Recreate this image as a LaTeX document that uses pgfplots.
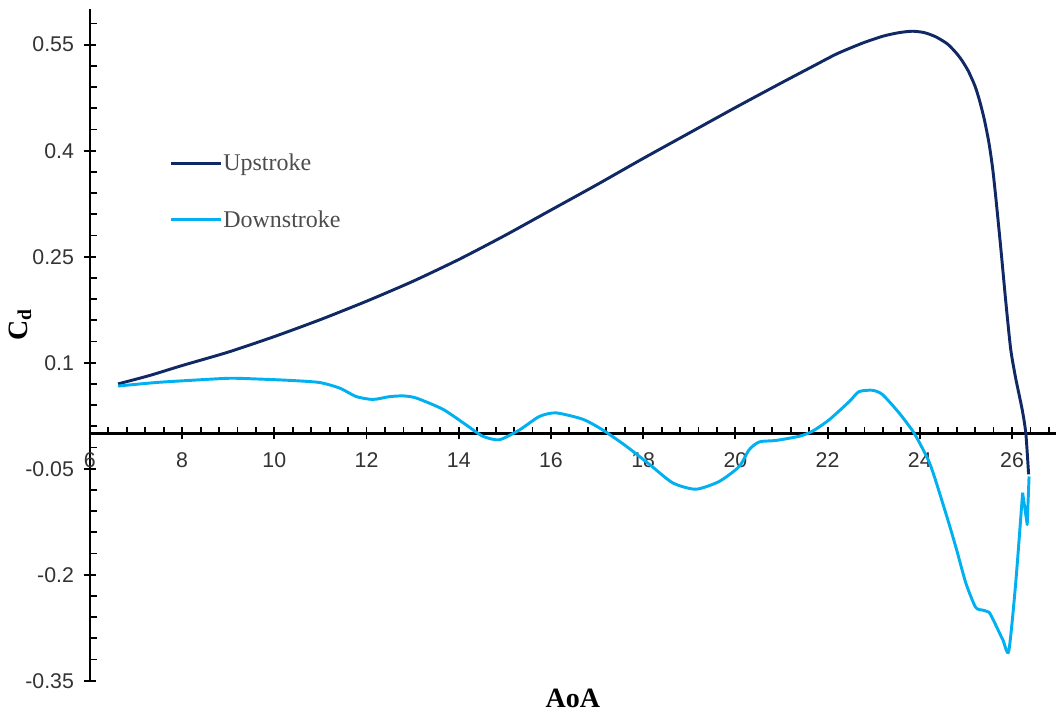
\documentclass[border=0pt]{standalone}
\usepackage{pgfplots}
\pgfplotsset{compat=1.18}
\usepackage{fontspec}
\setmainfont{Liberation Sans}
\newfontfamily\serif{Liberation Serif}

\definecolor{upc}{RGB}{16,40,100}
\definecolor{downc}{RGB}{0,176,240}

\begin{document}
\begin{tikzpicture}
\begin{axis}[
  scale only axis, width=725pt, height=504pt,
  xmin=6, xmax=26.95, ymin=-0.35, ymax=0.6,
  axis x line=middle, axis y line=left,
  axis line style={-, line width=1.8pt, black},
  hide obscured x ticks=false,
  xtick={6,8,10,12,14,16,18,20,22,24,26},
  xticklabels={6,8,10,12,14,16,18,20,22,24,26},
  ytick={-0.35,-0.2,-0.05,0.1,0.25,0.4,0.55},
  yticklabels={-0.35,-0.2,-0.05,0.1,0.25,0.4,0.55},
  % minor ticks on one side only, drawn as extra ticks
  extra x ticks={6.4,6.8,7.2,7.6,8.4,8.8,9.2,9.6,10.4,10.8,11.2,11.6,12.4,12.8,13.2,13.6,
    14.4,14.8,15.2,15.6,16.4,16.8,17.2,17.6,18.4,18.8,19.2,19.6,20.4,20.8,21.2,21.6,
    22.4,22.8,23.2,23.6,24.4,24.8,25.2,25.6,26.4,26.8},
  extra x tick labels={},
  extra y ticks={-0.32,-0.29,-0.26,-0.23,-0.17,-0.14,-0.11,-0.08,-0.02,0.01,0.04,0.07,
    0.13,0.16,0.19,0.22,0.28,0.31,0.34,0.37,0.43,0.46,0.49,0.52,0.58},
  extra y tick labels={},
  extra x tick style={tick align=inside, major tick length=5pt},
  extra y tick style={tick align=inside, major tick length=5pt},
  tick align=center,
  major tick length=9pt,
  every tick/.style={black, line width=1.4pt},
  tick label style={font=\fontsize{16}{19}\selectfont, text=black!80},
  xticklabel style={yshift=-6.5pt},
  yticklabel style={xshift=-4pt},
  every axis x label/.style={at={(axis description cs:0.5,0)}, anchor=center, yshift=-13pt},
  every axis y label/.style={at={(axis description cs:-0.0724,0.53)}, rotate=90, anchor=center},
  xlabel={\serif\bfseries\fontsize{21}{24}\selectfont AoA},
  ylabel={\serif\bfseries\fontsize{21}{24}\selectfont C\textsubscript{d}},
  legend style={at={(axis cs:7.64,0.4015)}, anchor=north west, draw=none, fill=none,
    font=\serif\fontsize{18}{21}\selectfont, text=black!70, row sep=26.5pt,
    nodes={inner sep=1pt}},
  legend cell align=left,
  legend image code/.code={\draw[#1] (0pt,0pt) -- (37pt,0pt);},
]
\addplot[upc, line width=2.2pt, smooth, tension=0.4] coordinates {
 (6.61,0.070) (7.3,0.082) (8.0,0.096) (9.0,0.115) (10,0.137) (11,0.161)
 (12,0.187) (13,0.215) (14,0.246) (15,0.280) (16,0.316) (17,0.352)
 (18,0.389) (19,0.425) (20,0.461) (21,0.496) (21.67,0.519) (22.2,0.537)
 (22.75,0.552) (23.2,0.562) (23.55,0.567) (23.84,0.569) (24.1,0.567)
 (24.35,0.561) (24.6,0.551) (24.78,0.539) (24.9,0.529) (25.05,0.513)
 (25.2,0.491) (25.3,0.470) (25.4,0.444) (25.5,0.411) (25.58,0.375)
 (25.65,0.333) (25.76,0.260) (25.86,0.190) (25.97,0.120) (26.08,0.078)
 (26.22,0.034) (26.30,0.0) (26.36,-0.058)
};
\addlegendentry{Upstroke}
\addplot[downc, line width=2.2pt, smooth, tension=0.4] coordinates {
 (26.23,-0.084) (26.08,-0.212) (25.93,-0.308) (25.80,-0.292) (25.58,-0.262)
 (25.50,-0.253) (25.36,-0.250) (25.21,-0.246) (25.0,-0.212) (24.80,-0.165)
 (24.63,-0.127) (24.35,-0.068) (24.2,-0.040) (24.0,-0.014) (23.84,0.004)
 (23.55,0.029) (23.19,0.055) (22.97,0.061) (22.68,0.059) (22.47,0.045)
 (22.03,0.019) (21.67,0.003) (21.39,-0.004) (20.88,-0.010) (20.52,-0.012)
 (20.30,-0.023) (20.08,-0.047) (19.65,-0.068) (19.14,-0.079) (18.64,-0.070)
 (18.14,-0.044) (17.63,-0.018) (17.12,0.005) (16.69,0.020) (16.11,0.029)
 (15.75,0.024) (15.32,0.005) (14.88,-0.009) (14.52,-0.004) (14.16,0.012)
 (13.66,0.034) (13.08,0.050) (12.80,0.053) (12.50,0.052) (12.14,0.048)
 (11.78,0.052) (11.42,0.064) (10.98,0.072) (10.33,0.075) (9.61,0.077)
 (9.03,0.078) (8.17,0.075) (7.44,0.072) (6.61,0.067)
};
\addlegendentry{Downstroke}
% short zigzag where the downstroke leaves the upstroke end
\addplot[downc, line width=2.2pt, forget plot, line join=round] coordinates {
 (26.37,-0.061) (26.33,-0.129) (26.23,-0.084)
};
\end{axis}
% margins round the axis
\path ([yshift=7pt]current axis.north);
\path ([xshift=-67.5pt]current axis.west);
\end{tikzpicture}
\end{document}
